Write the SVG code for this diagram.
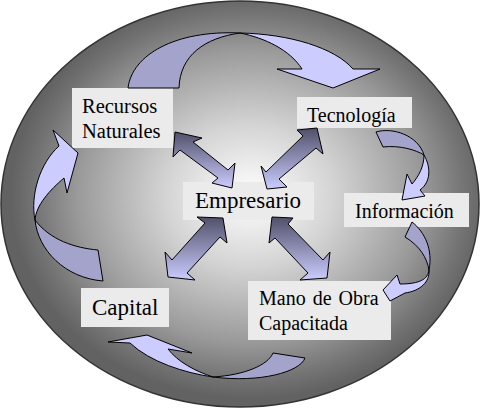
<svg xmlns="http://www.w3.org/2000/svg" width="481" height="409" viewBox="0 0 481 409">
<defs>
<radialGradient id="bg" cx="0.52" cy="0.48" r="0.5">
<stop offset="0" stop-color="#ffffff"/>
<stop offset="0.35" stop-color="#d4d4d4"/>
<stop offset="0.72" stop-color="#9a9a9a"/>
<stop offset="0.9" stop-color="#747474"/>
<stop offset="1" stop-color="#626262"/>
</radialGradient>
<linearGradient id="dbl" x1="0" y1="0" x2="0" y2="1">
<stop offset="0" stop-color="#50506a"/>
<stop offset="1" stop-color="#ccccff"/>
</linearGradient>
<style>
.box{fill:#ebebeb;}
.t{fill:#000;}
.lt{fill:#ccccff;stroke:#000;stroke-width:1;stroke-linejoin:round;}
.dk{fill:#a3a3cc;stroke:#000;stroke-width:1;stroke-linejoin:round;}
.da{fill:url(#dbl);stroke:#000;stroke-width:1;stroke-linejoin:round;}
</style>
</defs>
<ellipse cx="240" cy="204" rx="239" ry="203" fill="url(#bg)" stroke="#333" stroke-width="1.5"/>

<g font-family="Liberation Serif, Tinos, Times New Roman, DejaVu Serif, serif">
<g id="recursos">
<rect class="box" x="72" y="88" width="101" height="60"/>
<text class="t" x="82" y="113" font-size="20.5">Recursos</text>
<text class="t" x="82" y="138" font-size="20.5">Naturales</text>
</g>
<g id="tecnologia">
<rect class="box" x="297" y="97" width="115" height="31"/>
<text class="t" x="307" y="122" font-size="20">Tecnología</text>
</g>
<g id="empresario">
<rect class="box" x="183" y="182" width="131" height="38"/>
<text class="t" x="195" y="208" font-size="23">Empresario</text>
</g>
<g id="informacion">
<rect class="box" x="344" y="193" width="125" height="34"/>
<text class="t" x="355" y="218" font-size="20">Información</text>
</g>
<g id="capital">
<rect class="box" x="81" y="288" width="88" height="39"/>
<text class="t" x="92" y="315" font-size="23">Capital</text>
</g>
<g id="manodeobra">
<rect class="box" x="248" y="281" width="143" height="59"/>
<text class="t" x="259" y="305" font-size="20" word-spacing="2">Mano de Obra</text>
<text class="t" x="259" y="330" font-size="20">Capacitada</text>
</g>
</g>

<g id="connectors">
<path class="dk" d="M128,88 C132,55 175,30 240,33 C205,38 180,55 179,88 Z"/>
<path class="lt" d="M240,33 C290,34 335,48 353,69 L380,69 L333,88 L277,69 L302,69 C290,50 265,38 240,33 Z"/>
<path class="dk" d="M376,132 C392,127 418,135 424,155 C416,150 400,145 383,147 Z"/>
<path class="lt" d="M424,155 C431,167 431,182 420,190 L425,196 L402,200 L407,174 L412,184 C419,176 424,166 424,155 Z"/>
<path class="dk" d="M412,222 C425,232 433,250 429,270 C427,258 420,246 405,237 Z"/>
<path class="lt" d="M429,270 C428,279 420,284 400,284 L397,275 L383,290 L390,301 L405,293 C420,291 430,282 429,270 Z"/>
<path class="dk" d="M213,377 C245,375 268,365 273,353 L305,358 C300,372 260,383 213,377 Z"/>
<path class="lt" d="M213,377 C185,373 150,362 130,343 L108,342 L147,335 L192,353 L168,349 C178,362 195,371 213,377 Z"/>
<path class="dk" d="M35,220 C38,250 65,278 103,281 L98,250 C75,248 50,240 35,220 Z"/>
<path class="lt" d="M35,220 C30,195 40,163 59,146 L53,130 L78,153 L67,193 L64,178 C50,190 36,205 35,220 Z"/>
<polygon class="da" points="175,132 202,138 193,142 228,170 235,163 232,188 212,183 218,178 180,150 173,157"/>
<polygon class="da" points="317,128 323,154 316,148 279,179 287,187 267,189 261,166 266,172 303,136 297,130"/>
<polygon class="da" points="223,218 227,243 220,237 187,273 195,280 168,277 165,252 172,260 205,223 197,217"/>
<polygon class="da" points="272,217 293,218 288,224 323,260 330,252 327,278 300,280 308,273 275,238 269,243"/>
</g>
</svg>
